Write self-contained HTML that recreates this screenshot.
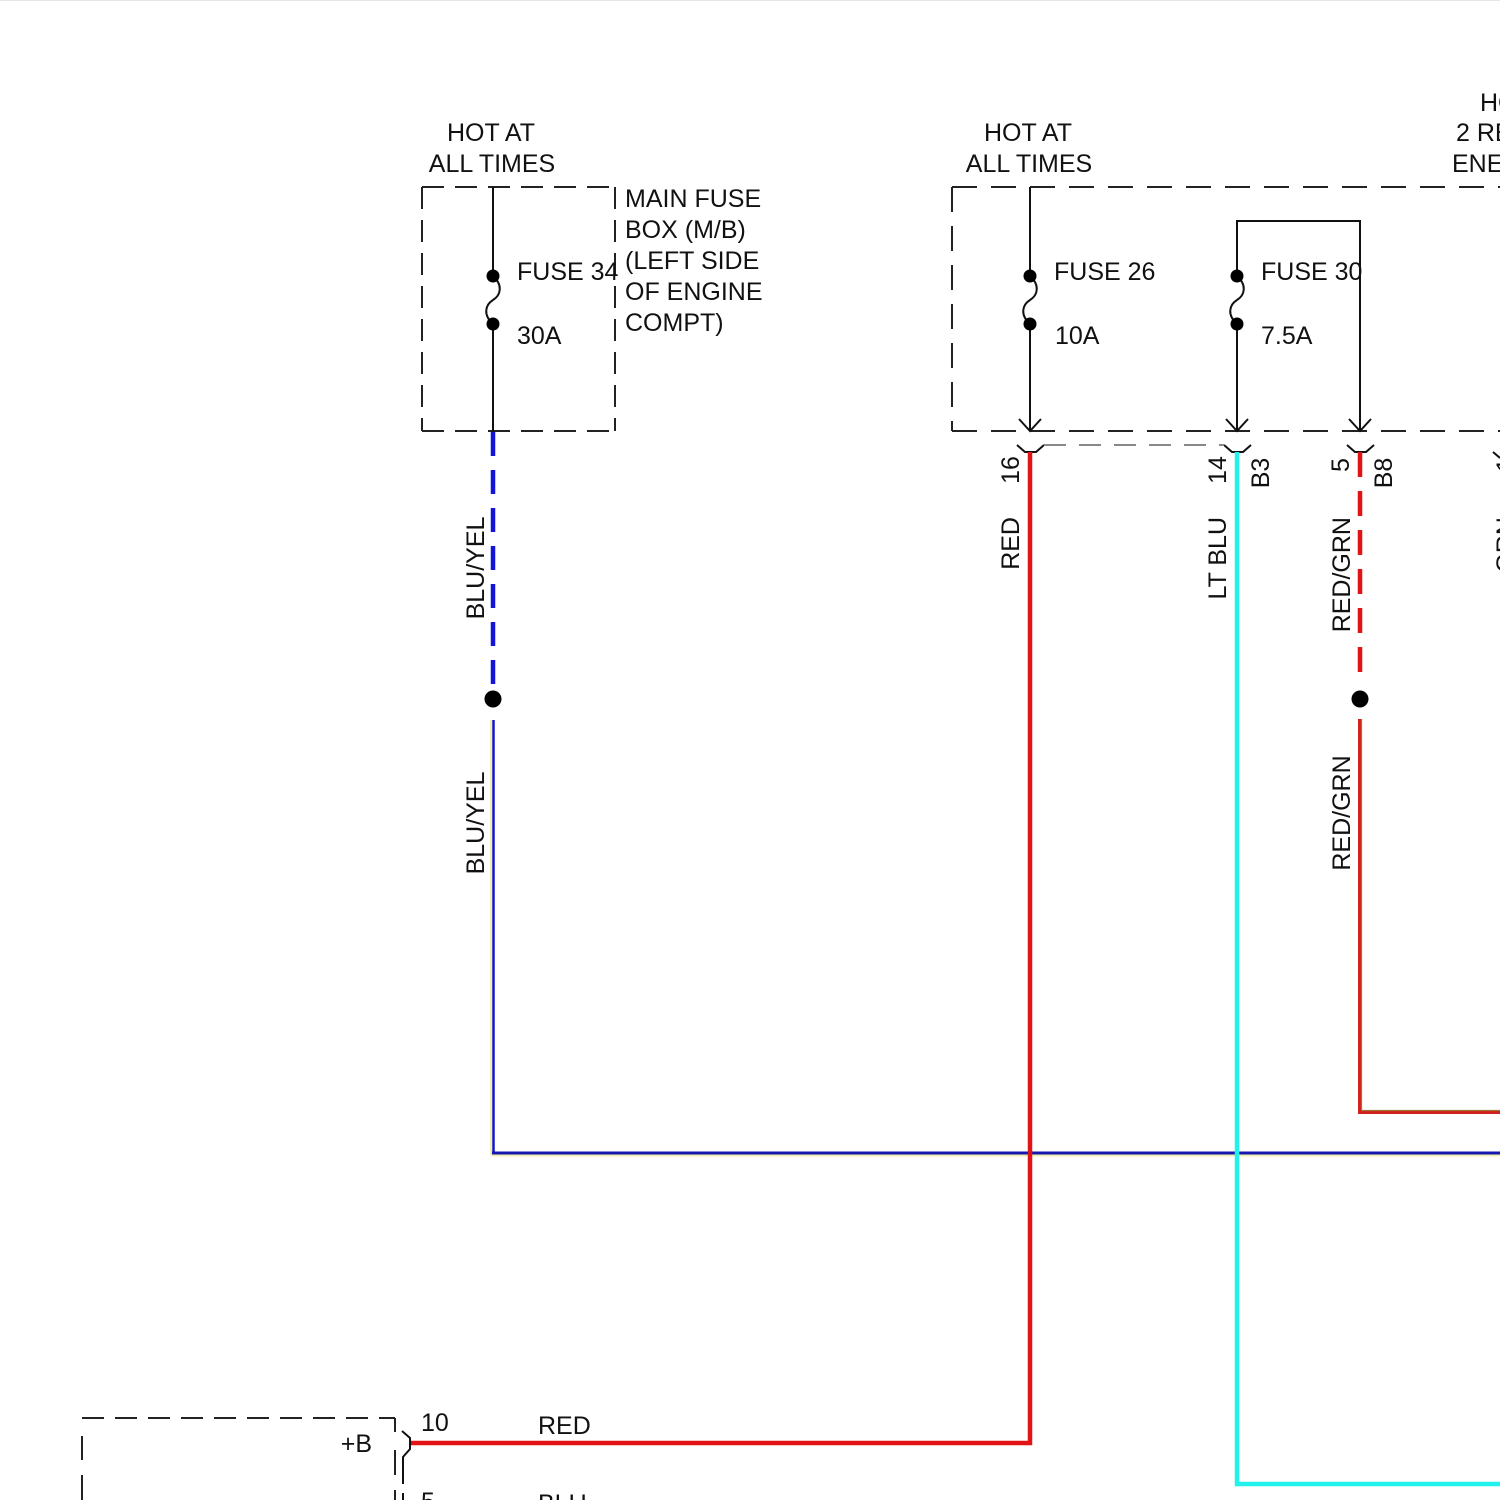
<!DOCTYPE html>
<html>
<head>
<meta charset="utf-8">
<style>
  html, body { margin:0; padding:0; background:#ffffff; }
  svg { display:block; }
  text { font-family: "Liberation Sans", Arial, sans-serif; font-size:25px; fill:#111; }
</style>
</head>
<body>
<svg width="1500" height="1500" viewBox="0 0 1500 1500" xmlns="http://www.w3.org/2000/svg">
  <rect x="0" y="0" width="1500" height="1500" fill="#ffffff"/>
  <line x1="0" y1="0.5" x2="1500" y2="0.5" stroke="#e6e6e6" stroke-width="1"/>

  <!-- ============ LEFT FUSE BOX ============ -->
  <text x="491" y="141" text-anchor="middle">HOT AT</text>
  <text x="492" y="172" text-anchor="middle">ALL TIMES</text>

  <g stroke="#222" stroke-width="2" fill="none" stroke-dasharray="22 11">
    <line x1="422" y1="187" x2="615" y2="187"/>
    <line x1="422" y1="187" x2="422" y2="431"/>
    <line x1="422" y1="431" x2="615" y2="431"/>
    <line x1="615" y1="187" x2="615" y2="431"/>
  </g>

  <g stroke="#111" stroke-width="2" fill="none">
    <line x1="493" y1="187" x2="493" y2="276"/>
    <path d="M493,276 C503,285 501,295 493,300 C485,305 483,315 493,324"/>
    <line x1="493" y1="324" x2="493" y2="432"/>
  </g>
  <circle cx="493" cy="276" r="6.5" fill="#000"/>
  <circle cx="493" cy="324" r="6.5" fill="#000"/>
  <text x="517" y="280">FUSE 34</text>
  <text x="517" y="344">30A</text>

  <text x="625" y="207">MAIN FUSE</text>
  <text x="625" y="238">BOX (M/B)</text>
  <text x="625" y="269">(LEFT SIDE</text>
  <text x="625" y="300">OF ENGINE</text>
  <text x="625" y="331">COMPT)</text>

  <!-- BLU/YEL wire -->
  <line x1="493" y1="432" x2="493" y2="684" stroke="#1414d8" stroke-width="4.5" stroke-dasharray="24 14"/>
  <circle cx="493" cy="699" r="8.5" fill="#000"/>
  <line x1="491" y1="720" x2="491" y2="1155" stroke="#f2f0b0" stroke-width="2"/>
  <line x1="493.5" y1="720" x2="493.5" y2="1153" stroke="#1616c8" stroke-width="2.5"/>
  <line x1="491" y1="1155.5" x2="1500" y2="1155.5" stroke="#f2f0b0" stroke-width="2"/>
  <line x1="492" y1="1153" x2="1500" y2="1153" stroke="#1616b0" stroke-width="3"/>

  <text transform="translate(484,568) rotate(-90)" text-anchor="middle">BLU/YEL</text>
  <text transform="translate(484,823) rotate(-90)" text-anchor="middle">BLU/YEL</text>

  <!-- ============ RIGHT FUSE BOX ============ -->
  <text x="1028" y="141" text-anchor="middle">HOT AT</text>
  <text x="1029" y="172" text-anchor="middle">ALL TIMES</text>

  <text x="1480" y="111">HOT</text>
  <text x="1456" y="141">2 RELAY</text>
  <text x="1452" y="172">ENERGIZED</text>

  <g stroke="#222" stroke-width="2" fill="none" stroke-dasharray="25 14">
    <line x1="952" y1="187" x2="1500" y2="187"/>
    <line x1="952" y1="187" x2="952" y2="431"/>
    <line x1="952" y1="431" x2="1500" y2="431"/>
  </g>

  <!-- Fuse 26 -->
  <g stroke="#111" stroke-width="2" fill="none">
    <line x1="1030" y1="187" x2="1030" y2="276"/>
    <path d="M1030,276 C1040,285 1038,295 1030,300 C1022,305 1020,315 1030,324"/>
    <line x1="1030" y1="324" x2="1030" y2="431"/>
    <path d="M1019,419 L1030,431 L1041,419"/>
  </g>
  <circle cx="1030" cy="276" r="6.5" fill="#000"/>
  <circle cx="1030" cy="324" r="6.5" fill="#000"/>
  <text x="1054" y="280">FUSE 26</text>
  <text x="1055" y="344">10A</text>

  <!-- Fuse 30 -->
  <g stroke="#111" stroke-width="2" fill="none">
    <path d="M1237,276 L1237,221 L1360,221 L1360,431"/>
    <path d="M1237,276 C1247,285 1245,295 1237,300 C1229,305 1227,315 1237,324"/>
    <line x1="1237" y1="324" x2="1237" y2="431"/>
    <path d="M1226,419 L1237,431 L1248,419"/>
    <path d="M1349,419 L1360,431 L1371,419"/>
  </g>
  <circle cx="1237" cy="276" r="6.5" fill="#000"/>
  <circle cx="1237" cy="324" r="6.5" fill="#000"/>
  <text x="1261" y="280">FUSE 30</text>
  <text x="1261" y="344">7.5A</text>

  <!-- connectors -->
  <g stroke="#111" stroke-width="2" fill="none">
    <path d="M1017,445 L1025,452 L1036,452 L1044,445"/>
    <path d="M1224,445 L1232,452 L1243,452 L1251,445"/>
    <path d="M1347,445 L1355,452 L1366,452 L1374,445"/>
    <path d="M1493,452 L1500,458"/>
  </g>
  <line x1="1044" y1="445" x2="1224" y2="445" stroke="#888" stroke-width="2" stroke-dasharray="22 13"/>

  <!-- RED wire (16) -->
  <line x1="1030" y1="452" x2="1030" y2="1445" stroke="#e21317" stroke-width="4.5"/>
  <line x1="410" y1="1443" x2="1032" y2="1443" stroke="#e21317" stroke-width="4.5"/>

  <!-- LT BLU wire (14) -->
  <line x1="1237" y1="452" x2="1237" y2="1486" stroke="#22f2ee" stroke-width="4.5"/>
  <line x1="1235" y1="1484" x2="1500" y2="1484" stroke="#22f2ee" stroke-width="4.5"/>

  <!-- RED/GRN wire (5) -->
  <line x1="1360" y1="452" x2="1360" y2="680" stroke="#e21317" stroke-width="4.5" stroke-dasharray="25 14"/>
  <circle cx="1360" cy="699" r="8.5" fill="#000"/>
  <line x1="1360" y1="719" x2="1360" y2="1114" stroke="#d21f1f" stroke-width="4"/>
  <line x1="1361.5" y1="719" x2="1361.5" y2="1110" stroke="#9a7a30" stroke-width="1.2"/>
  <line x1="1358" y1="1112" x2="1500" y2="1112" stroke="#d21f1f" stroke-width="4"/>
  <line x1="1361" y1="1110.5" x2="1500" y2="1110.5" stroke="#9a7a30" stroke-width="1.2"/>

  <!-- rotated labels -->
  <text transform="translate(1019,470) rotate(-90)" text-anchor="middle">16</text>
  <text transform="translate(1019,517) rotate(-90)" text-anchor="end">RED</text>
  <text transform="translate(1226,470) rotate(-90)" text-anchor="middle">14</text>
  <text transform="translate(1269,473) rotate(-90)" text-anchor="middle">B3</text>
  <text transform="translate(1226,517) rotate(-90)" text-anchor="end">LT BLU</text>
  <text transform="translate(1349,465) rotate(-90)" text-anchor="middle">5</text>
  <text transform="translate(1392,473) rotate(-90)" text-anchor="middle">B8</text>
  <text transform="translate(1350,517) rotate(-90)" text-anchor="end">RED/GRN</text>
  <text transform="translate(1350,813) rotate(-90)" text-anchor="middle">RED/GRN</text>
  <text transform="translate(1514,465) rotate(-90)" text-anchor="middle">1</text>
  <text transform="translate(1514,517) rotate(-90)" text-anchor="end">GRN</text>

  <!-- ============ BOTTOM LEFT COMPONENT ============ -->
  <g stroke="#222" stroke-width="2" fill="none">
    <line x1="82" y1="1418" x2="395" y2="1418" stroke-dasharray="22 11"/>
    <line x1="82" y1="1436" x2="82" y2="1460"/>
    <line x1="82" y1="1475" x2="82" y2="1500"/>
    <line x1="395" y1="1418" x2="395" y2="1432"/>
    <line x1="395" y1="1450" x2="395" y2="1475"/>
    <line x1="395" y1="1490" x2="395" y2="1500"/>
  </g>
  <g stroke="#111" stroke-width="2" fill="none">
    <path d="M402,1431 L410,1438 L410,1449 L403,1457 L403,1484"/>
    <line x1="403" y1="1493" x2="403" y2="1500"/>
  </g>
  <text x="372" y="1452" text-anchor="end">+B</text>
  <text x="421" y="1431">10</text>
  <text x="538" y="1434">RED</text>
  <text x="421" y="1510">5</text>
  <text x="538" y="1512">BLU</text>
</svg>
</body>
</html>
